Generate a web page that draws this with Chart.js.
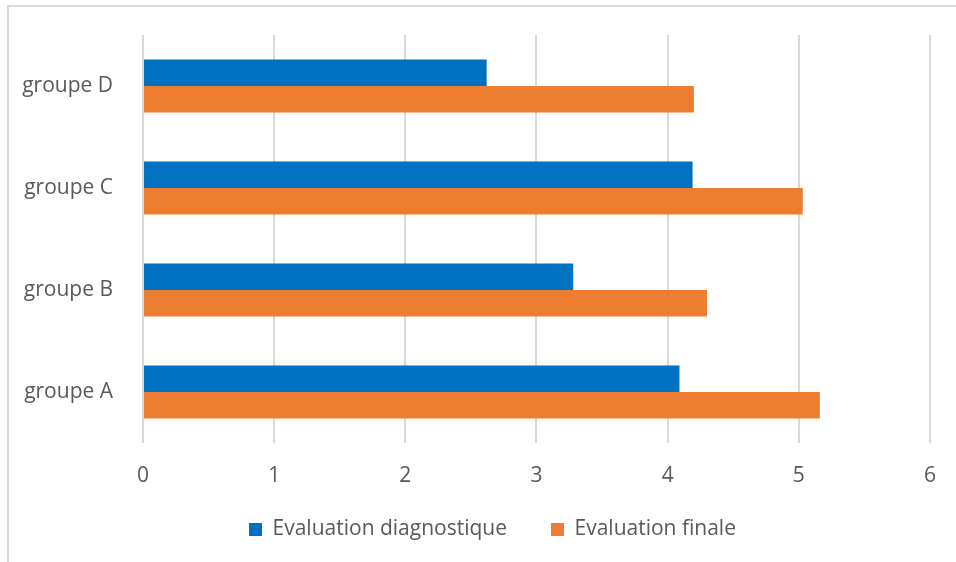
<!DOCTYPE html>
<html>
<head>
<meta charset="utf-8">
<script src="https://cdn.jsdelivr.net/npm/chart.js@4/dist/chart.umd.min.js"></script>
<style>
    html, body { margin: 0; padding: 0; background: #fff; overflow: hidden; }
    #frame {
        position: absolute; left: 7px; top: 5px; width: 1000px; height: 600px;
        border-left: 2px solid #d9d9d9; border-top: 2px solid #d9d9d9;
    }
    #wrap { position: absolute; left: 0; top: 0; width: 956px; height: 562px; }
</style>
</head>
<body>
<div id="frame"></div>
<div id="wrap"><canvas id="barChart" width="956" height="562"></canvas></div>
<script>
// --- data (top to bottom as drawn) ---
const groupes = ['groupe D', 'groupe C', 'groupe B', 'groupe A'];
const diagnostique = [2.62, 4.19, 3.28, 4.09];
const finale = [4.20, 5.03, 4.30, 5.16];
const xTicks = [0, 1, 2, 3, 4, 5, 6];

const textColor = '#595959';
const fontFamily = '"Open Sans", "Noto Sans", sans-serif';

// legend: fixed height in layout, then nudged into place like the original
const legendPlace = {
    id: 'legendPlace',
    afterInit(chart) {
        const legend = chart.legend;
        if (!legend) return;
        const origFit = legend.fit.bind(legend);
        legend.fit = function () {
            origFit();
            this.height = 59;
        };
    },
    afterLayout(chart) {
        const legend = chart.legend;
        if (!legend) return;
        legend.left = 52;
        legend.right = 933;
        legend.width = legend.right - legend.left;
        legend.top = 475;
        legend.bottom = chart.height;
        legend.height = legend.bottom - legend.top;
    }
};

new Chart(document.getElementById('barChart'), {
    type: 'bar',
    data: {
        labels: groupes,
        datasets: [
            { label: 'Evaluation diagnostique', data: diagnostique, backgroundColor: '#0070c0' },
            { label: 'Evaluation finale', data: finale, backgroundColor: '#ed7d31' }
        ]
    },
    options: {
        indexAxis: 'y',
        responsive: false,
        animation: false,
        categoryPercentage: 0.52,
        barPercentage: 1,
        layout: { padding: { left: 0, right: 23, top: 35, bottom: 0 } },
        scales: {
            x: {
                min: xTicks[0],
                max: xTicks[xTicks.length - 1],
                afterBuildTicks: (axis) => { axis.ticks = xTicks.map(v => ({ value: v })); },
                afterFit: (axis) => { axis.height = 60; },
                grid: { color: '#d9d9d9', lineWidth: 2, drawTicks: false },
                border: { display: false },
                ticks: { color: textColor, font: { family: fontFamily, size: 21 }, padding: 20 }
            },
            y: {
                afterFit: (axis) => { axis.width = 143; },
                grid: { display: false },
                border: { display: false },
                ticks: { color: textColor, font: { family: fontFamily, size: 21 }, padding: 22 }
            }
        },
        plugins: {
            tooltip: { enabled: false },
            legend: {
                position: 'bottom',
                labels: {
                    color: textColor,
                    font: { family: fontFamily, size: 21 },
                    boxWidth: 13,
                    boxHeight: 13,
                    padding: 44
                }
            }
        }
    },
    plugins: [legendPlace]
});
</script>
</body>
</html>
